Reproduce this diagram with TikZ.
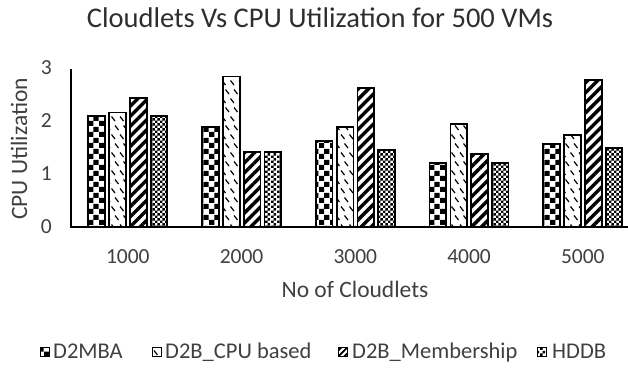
\documentclass[tikz,border=0pt]{standalone}
\usepackage{fontspec}
\setmainfont{Carlito}
\usetikzlibrary{patterns,patterns.meta}

% coarse checkerboard (D2MBA)
\pgfdeclarepatternformonly{bigchecker}{\pgfqpoint{0pt}{0pt}}{\pgfqpoint{11pt}{11pt}}{\pgfqpoint{11pt}{11pt}}{%
  \pgfpathrectangle{\pgfqpoint{0pt}{0pt}}{\pgfqpoint{5.5pt}{5.5pt}}%
  \pgfpathrectangle{\pgfqpoint{5.5pt}{5.5pt}}{\pgfqpoint{5.5pt}{5.5pt}}%
  \pgfusepath{fill}}
% fine checkerboard (HDDB)
\pgfdeclarepatternformonly{smallchecker}{\pgfqpoint{0pt}{0pt}}{\pgfqpoint{5.4pt}{5.4pt}}{\pgfqpoint{5.4pt}{5.4pt}}{%
  \pgfpathrectangle{\pgfqpoint{0pt}{0pt}}{\pgfqpoint{2.7pt}{2.7pt}}%
  \pgfpathrectangle{\pgfqpoint{2.7pt}{2.7pt}}{\pgfqpoint{2.7pt}{2.7pt}}%
  \pgfusepath{fill}}
% short staggered dashes running down to the right (D2B_CPU based)
\pgfdeclarepatternformonly{dashdown}{\pgfqpoint{-1pt}{-1pt}}{\pgfqpoint{9.5pt}{19pt}}{\pgfqpoint{8.5pt}{18pt}}{%
  \pgfsetlinewidth{1.2pt}%
  \pgfpathmoveto{\pgfqpoint{1pt}{16.5pt}}%
  \pgfpathlineto{\pgfqpoint{4.5pt}{12pt}}%
  \pgfpathmoveto{\pgfqpoint{4.5pt}{7.5pt}}%
  \pgfpathlineto{\pgfqpoint{8pt}{3pt}}%
  \pgfusepath{stroke}}

\tikzset{
  bar/.style={draw=black, line width=1.8pt},
  s1/.style={bar, pattern=bigchecker},
  s2/.style={bar, pattern=dashdown},
  s3/.style={bar, pattern={Lines[angle=45,distance=7.1pt,line width=3.4pt]}},
  s4/.style={bar, pattern=smallchecker},
  tick/.style={font=\fontsize{21.5}{24}\selectfont, text=black!75, inner sep=0pt},
  axtitle/.style={font=\fontsize{23.5}{26}\selectfont, text=black!75, inner sep=0pt},
  legtext/.style={font=\fontsize{22.5}{25}\selectfont, text=black!75, inner sep=0pt, anchor=base west},
  ttl/.style={font=\fontsize{28.5}{31}\selectfont, text=black!82, inner sep=0pt},
  legmark/.style={draw, line width=1.4pt, minimum size=9pt, inner sep=0pt},
}

\begin{document}
\begin{tikzpicture}[x=1pt, y=-1pt]
  \fill[white] (0,0) rectangle (628,367);
  \useasboundingbox (0,0) rectangle (628,367);

  % title
  \node[ttl, anchor=base] (title) at (320,27) {Cloudlets Vs CPU Utilization for 500 VMs};

  % value axis labels
  \foreach \v in {0,1,2,3}
    \node[tick, anchor=base east] (ytick\v) at (52,233.8-53*\v) {\v};
  \node[axtitle, rotate=90, anchor=base] (ytitle) at (27,149) {CPU Utilization};

  % bars: group index, the four series values, category
  \foreach \g/\a/\b/\c/\d/\cat in {0/2.10/2.16/2.43/2.10/1000,
                                   1/1.89/2.84/1.42/1.41/2000,
                                   2/1.63/1.89/2.62/1.45/3000,
                                   3/1.21/1.95/1.38/1.21/4000,
                                   4/1.56/1.74/2.77/1.49/5000}{
    \pgfmathsetmacro{\cx}{127.8+113.75*\g}
    \draw[s1] (\cx-39.5,227) rectangle (\cx-22.8,227-53*\a);
    \draw[s2] (\cx-18.5,227) rectangle (\cx-1.8,227-53*\b);
    \draw[s3] (\cx+2.2,227) rectangle (\cx+18.9,227-53*\c);
    \draw[s4] (\cx+22.9,227) rectangle (\cx+39.5,227-53*\d);
    \node[tick, anchor=base] (xtick\g) at (\cx,263) {\cat};
  }

  % axes
  \coordinate (o) at (71,227);
  \coordinate (ytop) at (71,69);
  \coordinate (xend) at (628,227);
  \draw[line width=1.5pt] (ytop) -- (o) -- (xend);

  \node[axtitle, anchor=base] (xtitle) at (355,297) {No of Cloudlets};

  % legend
  \node[legmark, pattern=bigchecker] (m1) at (45,352) {};
  \node[legtext] (l1) at (53,358.5) {D2MBA};
  \node[legmark, pattern=dashdown] (m2) at (157,352) {};
  \node[legtext] (l2) at (165,358.5) {D2B\_CPU based};
  \node[legmark, pattern={Lines[angle=45,distance=4pt,line width=2pt]}] (m3) at (343,352) {};
  \node[legtext] (l3) at (352,358.5) {D2B\_Membership};
  \node[legmark, pattern=smallchecker] (m4) at (542,352) {};
  \node[legtext] (l4) at (552,358.5) {HDDB};
\end{tikzpicture}
\end{document}
